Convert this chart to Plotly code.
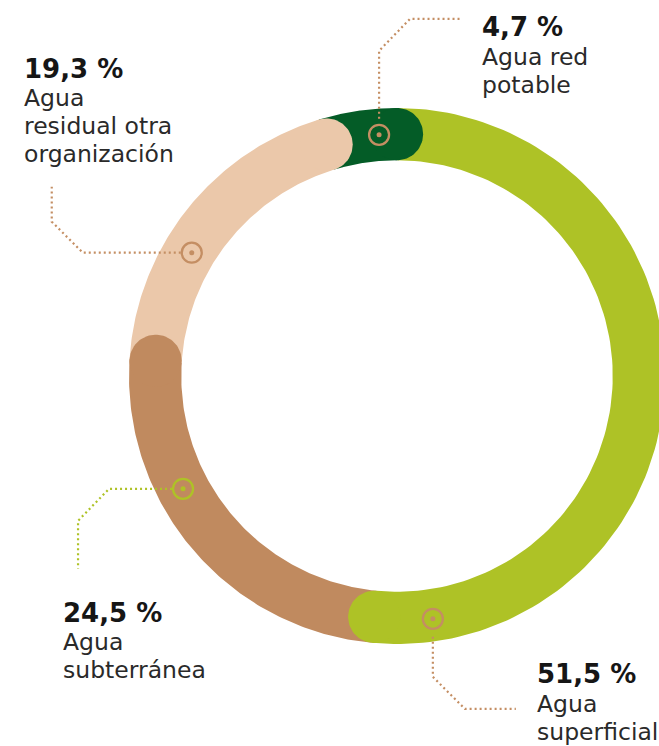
import numpy as np
import plotly.graph_objects as go

# ---------------- data ----------------
categories = ["Agua superficial", "Agua subterránea",
              "Agua residual otra organización", "Agua red potable"]
values = [51.5, 24.5, 19.3, 4.7]
value_labels = ["51,5 %", "24,5 %", "19,3 %", "4,7 %"]
label_lines = [["Agua", "superficial"],
               ["Agua", "subterránea"],
               ["Agua", "residual otra", "organización"],
               ["Agua red", "potable"]]

# ---------------- styles / layout ----------------
colors = ["#aec226", "#c08a5f", "#ebc8aa", "#045c27"]
callout_colors = ["#c48e63", "#aec226", "#c48e63", "#c48e63"]

W, H = 659, 746
CX, CY, S = 397, 376, 268          # ring centre (px) and outer radius (px)
R_OUT, R_IN = 1.0, 0.805
R_MID = (R_OUT + R_IN) / 2
CAP = (R_OUT - R_IN) / 2

# callout placement (angle on ring, radius factor, leader path offsets in px, text anchor px)
callout_angle = [171.6, 242.2, 301.0, 355.75]
callout_r = [1.015, 1.0, 0.99, 1.0]
leader_offsets = [
    [(0, 18), (0, 58), (32, 90), (83, 90)],
    [(-11, 0), (-74, 0), (-105, 32), (-105, 80)],
    [(-11, 0), (-109, 0), (-140, -31), (-140, -66)],
    [(0, -16), (0, -84), (31, -116), (83, -116)],
]
text_anchor = [(535, 683), (61, 621.5), (22, 77.5), (480, 36)]

PCT_SIZE, BODY_SIZE = 26, 23.5
FONT = "DejaVu Sans"


def pol(r, deg):
    """clockwise from 12 o'clock, y up"""
    t = np.radians(deg)
    return r * np.sin(t), r * np.cos(t)


def px2d(x, y):
    return (x - CX) / S, (CY - y) / S


fig = go.Figure()

total = sum(values)
bounds = np.concatenate([[0], np.cumsum(values)]) / total * 360.0

# ring bodies
for i, v in enumerate(values):
    a0, a1 = bounds[i], bounds[i + 1]
    th = np.linspace(a0, a1, 120)
    xo, yo = pol(R_OUT, th)
    xi, yi = pol(R_IN, th[::-1])
    fig.add_trace(go.Scatter(
        x=np.concatenate([xo, xi, xo[:1]]), y=np.concatenate([yo, yi, yo[:1]]),
        fill="toself", fillcolor=colors[i], mode="lines",
        line=dict(width=0, color=colors[i]), hoverinfo="skip",
        name=categories[i], showlegend=False))

# rounded caps at clockwise end of every segment
for i, v in enumerate(values):
    ex, ey = pol(R_MID, bounds[i + 1])
    t = np.linspace(0, 2 * np.pi, 80)
    fig.add_trace(go.Scatter(
        x=ex + CAP * np.cos(t), y=ey + CAP * np.sin(t),
        fill="toself", fillcolor=colors[i], mode="lines",
        line=dict(width=0, color=colors[i]), hoverinfo="skip", showlegend=False))

# callouts
for i in range(len(values)):
    mx, my = pol(R_MID * callout_r[i], callout_angle[i])
    mpx, mpy = CX + mx * S, CY - my * S
    pts = [px2d(mpx + dx, mpy + dy) for dx, dy in leader_offsets[i]]
    fig.add_trace(go.Scatter(
        x=[p[0] for p in pts], y=[p[1] for p in pts], mode="lines",
        line=dict(color=callout_colors[i], width=2.2, dash="2px,3px"),
        hoverinfo="skip", showlegend=False))
    fig.add_trace(go.Scatter(
        x=[mx], y=[my], mode="markers",
        marker=dict(symbol="circle-open", size=20, color=callout_colors[i],
                    line=dict(width=2.3, color=callout_colors[i])),
        hoverinfo="skip", showlegend=False))
    fig.add_trace(go.Scatter(
        x=[mx], y=[my], mode="markers",
        marker=dict(symbol="circle", size=5, color=callout_colors[i]),
        hoverinfo="skip", showlegend=False))

    # texts
    tx, base = text_anchor[i]
    lines = [(value_labels[i], PCT_SIZE, True)] + [(l, BODY_SIZE, False) for l in label_lines[i]]
    for k, (txt, fs, bold) in enumerate(lines):
        b = base + (0 if k == 0 else 29 + 28 * (k - 1))
        ax, ay = px2d(tx, b - 0.346 * fs)
        fig.add_annotation(
            x=ax, y=ay, xref="x", yref="y", text=(f"<b>{txt}</b>" if bold else txt),
            showarrow=False, xanchor="left", yanchor="middle",
            font=dict(family=FONT, size=fs, color="#161616" if bold else "#2a2a2a"))

fig.update_layout(
    width=W, height=H, margin=dict(l=0, r=0, t=0, b=0),
    paper_bgcolor="white", plot_bgcolor="white", showlegend=False,
    xaxis=dict(range=[(0 - CX) / S, (W - CX) / S], visible=False, fixedrange=True),
    yaxis=dict(range=[(CY - H) / S, CY / S], visible=False, fixedrange=True),
)

fig.write_html("out.html", config={"displayModeBar": False},
               post_script="document.body.style.margin='0';document.body.style.overflow='hidden';")
